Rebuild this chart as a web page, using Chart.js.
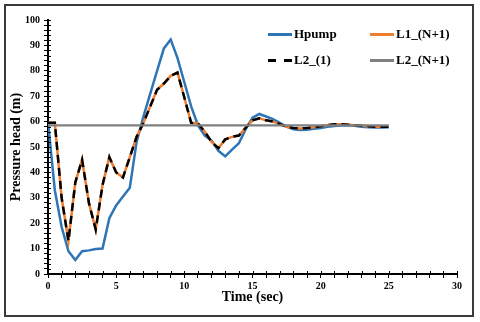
<!DOCTYPE html>
<html>
<head>
<meta charset="utf-8">
<script src="https://cdn.jsdelivr.net/npm/chart.js@4/dist/chart.umd.min.js"></script>
<style>
  html, body { margin: 0; padding: 0; background: #fff; }
  #wrap { position: relative; width: 480px; height: 322px; }
  #frame { position: absolute; left: 4px; top: 4px; width: 466px; height: 309px; border: 2px solid #3a3a3a; pointer-events: none; }
  .lg { position: absolute; display: flex; align-items: center; font: bold 13px "Liberation Serif", "Times New Roman", serif; color: #000; white-space: nowrap; }
  .lg .sw { width: 24px; height: 3px; margin-right: 2px; }
</style>
</head>
<body>
<div id="wrap">
  <canvas id="c" width="480" height="322"></canvas>
  <div id="frame"></div>
  <div id="legend"></div>
</div>
<script>
// ---- data ----
const time = [0,0.5,1,1.5,2,2.5,3,3.5,4,4.5,5,5.5,6,6.5,7,7.5,8,8.5,9,9.5,10,10.5,11,11.5,12,12.5,13,13.5,14,14.5,15,15.5,16,16.5,17,17.5,18,18.5,19,19.5,20,20.5,21,21.5,22,22.5,23,23.5,24,24.5,25];
const hpump = [60,33,18.5,9,5.5,9,9.3,9.8,10,22,27,30.5,34,52,62,71,80,88.8,92.3,85,75.5,66,58.5,54.5,52.5,48.5,46.3,49,51.5,57,61.5,63,62,61,59.5,58,57,56.7,56.8,57.2,57.5,58,58.3,58.5,58.6,58.4,58,57.8,57.7,57.7,57.8];
const l1N1 = [59.5,59.5,30,13,36,45,28,17.5,35,46,40,38,46,54,59.5,66,72.5,75,78,79.3,69.5,59.5,59.3,56,52,49.5,53,54,54.5,57.5,60.5,61.3,60.5,60,59,58,57.5,57.3,57.5,57.8,58.2,58.6,59,59,58.8,58.6,58.4,58.2,58,58,58];
const l2First = [59.5,59.5,30,13,36,45,28,17.5,35,46,40,38,46,54,59.5,66,72.5,75,78,79.3,69.5,59.5,59.3,56,52,49.5,53,54,54.5,57.5,60.5,61.3,60.5,60,59,58,57.5,57.3,57.5,57.8,58.2,58.6,59,59,58.8,58.6,58.4,58.2,58,58,58];
const l2N1Time = [0, 25];
const l2N1 = [58.5, 58.5];
const seriesLabels = ['Hpump', 'L1_(N+1)', 'L2_(1)', 'L2_(N+1)'];

const pts = (xs, ys) => xs.map((x, i) => ({x, y: ys[i]}));

const serif = '"Liberation Serif", "Times New Roman", serif';

const crossTicks = {
  id: 'crossTicks',
  afterDraw(chart) {
    const {ctx, chartArea} = chart;
    ctx.save();
    ctx.strokeStyle = '#000';
    ctx.lineWidth = 1;
    const xs = chart.scales.x, ys = chart.scales.y;
    xs.ticks.forEach(t => {
      const px = Math.round(xs.getPixelForValue(t.value)) + 0.5;
      ctx.beginPath(); ctx.moveTo(px, chartArea.bottom); ctx.lineTo(px, chartArea.bottom - 3); ctx.stroke();
    });
    ys.ticks.forEach(t => {
      const py = Math.round(ys.getPixelForValue(t.value)) + 0.5;
      ctx.beginPath(); ctx.moveTo(chartArea.left, py); ctx.lineTo(chartArea.left + 3, py); ctx.stroke();
    });
    ctx.restore();
  }
};

const chart = new Chart(document.getElementById('c'), {
  type: 'line',
  data: {
    datasets: [
      { label: seriesLabels[0], data: pts(time, hpump), borderColor: '#2E75B6', borderWidth: 2.5, order: 3 },
      { label: seriesLabels[1], data: pts(time, l1N1), borderColor: '#ED7D31', borderWidth: 2.5, order: 2 },
      { label: seriesLabels[2], data: pts(time, l2First), borderColor: '#000000', borderWidth: 2.5, borderDash: [8, 5], order: 1 },
      { label: seriesLabels[3], data: pts(l2N1Time, l2N1), borderColor: '#808080', borderWidth: 2.2, order: 0 }
    ]
  },
  options: {
    responsive: false,
    animation: false,
    events: [],
    elements: { point: { radius: 0 }, line: { tension: 0, fill: false } },
    layout: { padding: { left: 8, right: 23, top: 20, bottom: 16 } },
    plugins: { legend: { display: false }, tooltip: { enabled: false } },
    scales: {
      x: {
        type: 'linear', min: 0, max: 30,
        afterFit: s => { s.height = 32; },
        border: { color: '#000', width: 2 },
        grid: { drawOnChartArea: false, color: '#000', tickLength: 4, lineWidth: 1 },
        ticks: { stepSize: 1, autoSkip: false, maxRotation: 0, padding: 2, color: '#000',
          font: { family: serif, weight: 'bold', size: 10 },
          callback: v => (v % 5 === 0 ? v : '') },
        title: { display: true, text: 'Time (sec)', color: '#000', padding: 0,
          font: { family: serif, weight: 'bold', size: 14 } }
      },
      y: {
        min: 0, max: 100,
        afterFit: s => { s.width = 40; },
        border: { color: '#000', width: 2 },
        grid: { drawOnChartArea: false, color: '#000', tickLength: 4, lineWidth: 1 },
        ticks: { stepSize: 2, autoSkip: false, padding: 4, color: '#000',
          font: { family: serif, weight: 'bold', size: 10 },
          callback: v => (v % 10 === 0 ? v : '') },
        title: { display: true, text: 'Pressure head (m)', color: '#000', padding: 0,
          font: { family: serif, weight: 'bold', size: 14 } }
      }
    }
  },
  plugins: [crossTicks]
});

// HTML legend built from the chart's datasets
const legendPos = [
  { left: 268, top: 34 }, { left: 370, top: 34 },
  { left: 268, top: 60 }, { left: 370, top: 60 }
];
const legendEl = document.getElementById('legend');
chart.data.datasets.forEach((ds, i) => {
  const item = document.createElement('div');
  item.className = 'lg';
  item.style.left = legendPos[i].left + 'px';
  item.style.top = (legendPos[i].top - 8) + 'px';
  item.style.height = '16px';
  const sw = document.createElement('div');
  sw.className = 'sw';
  if (ds.borderDash) {
    sw.style.background = 'repeating-linear-gradient(to right, ' + ds.borderColor + ' 0 8px, transparent 8px 16px)';
  } else {
    sw.style.background = ds.borderColor;
  }
  const tx = document.createElement('span');
  tx.textContent = ds.label;
  item.appendChild(sw);
  item.appendChild(tx);
  legendEl.appendChild(item);
});
</script>
</body>
</html>
